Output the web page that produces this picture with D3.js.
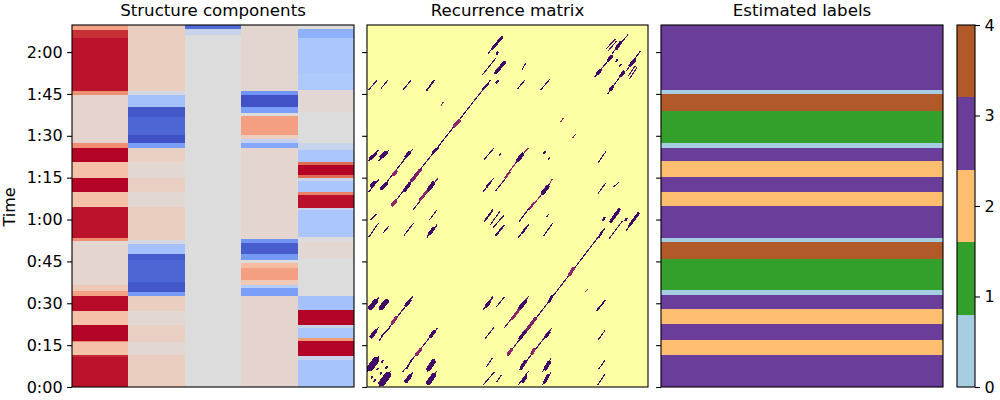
<!DOCTYPE html>
<html><head><meta charset="utf-8">
<script src="https://cdn.jsdelivr.net/npm/d3@7/dist/d3.min.js"></script>
<style>html,body{margin:0;padding:0;background:#fff}svg{display:block}text{font-family:"DejaVu Sans",sans-serif;fill:#000}</style>
</head><body><svg id="c" width="1000" height="400"></svg>
<script>
const duration = 129.7;
const timeTicks = [0,15,30,45,60,75,90,105,120];
const timeTickLabels = ["0:00","0:15","0:30","0:45","1:00","1:15","1:30","1:45","2:00"];
const titles = ["Structure components","Recurrence matrix","Estimated labels"];
const labelTicks = [0,1,2,3,4];
const labelColors = ["#a6cee3","#33a02c","#fdbf6f","#6a3d9a","#b15928"];

// [segment end in seconds, value], bottom to top
const component1 = [[10.8,.96],[11.5,.9],[16.1,.27],[16.5,.6],[22.2,1],[27.2,.27],[32.6,.98],[34.4,.45],[36.6,.2],[52.3,.07],[53.4,.55],[64.5,.96],[69.9,.27],[74.9,1],[80.6,.27],[85.7,1],[87.5,.55],[104.7,.08],[106.1,.55],[125.1,.96],[128,.88],[129.7,.45]];
const component2 = [[11.5,.14],[16.1,.05],[22.2,.13],[27.2,.05],[32.6,.14],[34,-.55],[37.6,-.95],[45.5,-.88],[47.7,-.93],[51.3,-.3],[52.7,-.05],[64.5,.14],[69.9,.05],[74.9,.13],[80.6,.05],[85.7,.13],[87.5,-.5],[90.3,-.97],[96.8,-.88],[100.4,-.95],[104.7,-.3],[106.1,-.05],[129.7,.14]];
const component3 = [[126.2,0],[128.3,-.12],[129.7,-.85]];
const component4 = [[32.6,.08],[35.5,-.5],[36.6,-.2],[38.4,.2],[42.7,.47],[44.4,.3],[45.5,0],[47.7,-.55],[51.6,-.92],[53,-.6],[85.7,.07],[87.5,-.45],[88.9,-.15],[90.3,.15],[97.1,.47],[98.2,0],[100.4,-.5],[104.7,-.97],[106.1,-.6],[129.7,.06]];
const component5 = [[9.7,-.28],[11.1,-.12],[16.5,1],[17.6,.5],[21.1,-.27],[22.2,-.1],[27.6,1],[32.6,-.3],[46.2,0],[52,.05],[53.8,0],[63.4,-.27],[64.2,-.1],[68.8,.97],[69.9,.6],[73.8,-.27],[74.9,-.1],[76,.7],[79.6,1],[80.6,.7],[84.9,-.27],[87.5,-.12],[98.6,0],[106.5,.05],[112.5,-.25],[125.1,-.27],[128.3,-.4],[129.7,0]];
const components = [component1,component2,component3,component4,component5];

// [end in seconds, label]
const labelSegments = [[11.5,3],[16.8,2],[22.6,3],[28,2],[33,3],[34.8,0],[45.9,1],[52,4],[53.4,0],[64.9,3],[70,2],[75.3,3],[81,2],[85.7,3],[87.5,0],[98.9,1],[105,4],[106.5,0],[129.7,3]];

// Recurrence runs above the diagonal: [t0, lagged t0, t1, lagged t1, similarity, beats wide]. The matrix is symmetric.
const recurrenceRuns = [
[.9,106.6,4.5,109.8,.8,1],[6.5,107,9.5,109.8,.8,1],[16.8,106.6,20.2,109.8,.8,1],[27.5,106.2,30.9,109.8,.8,1.5],
[.9,81.1,5.2,84.9,.8,1],[5.5,81.1,10.2,84.9,.8,1],[16.8,81.3,20.9,85.1,.8,1],[6.3,70.6,20.9,85.1,.8,1],
[11.7,65.2,56.8,109.8,.8,1],[21.4,63.6,32.5,74.6,.7,1],[.9,70,5.5,74.4,.8,1],[53.7,70,58.3,74.7,.8,1],
[59.4,70.3,64,74.8,.8,1],[64,74.8,66,76.8,.6,1],[54.2,81.6,58.5,85.5,.8,1],[61.1,83,61.7,83.7,.8,1],[34.2,100.8,35.1,102,.6,1],
[58,121.3,62.2,125.3,.8,2.5],[56,119.6,59.1,122.5,.8,1],[53.2,111.8,59.4,117.8,.8,1],[59.4,112.6,63.4,116.3,.8,3],
[59.8,119.3,60.3,119.8,.8,2],[59.8,109,60.6,109.6,.8,2],
[17.5,70.6,19.8,73,.8,3],[20.6,73.9,24.5,77.7,.65,3],[28.3,70.6,30.6,73,.8,3.5],[24.5,67,27.5,70,.6,2.5],[12.2,76.2,13.4,77.1,.6,3],
[11.7,65.2,13.3,66.6,.6,3],[40.3,93.5,42.5,95.3,.6,3],[30.6,84.1,32.6,85.5,.8,2.5],[1.8,82,4,83.5,.8,3],[2,72,3.6,73.3,.8,3],[6.8,71.2,9.1,73,.8,3],[6.6,82.4,8.8,84,.8,3.5],[18,82.6,19.6,84,.8,3],[53.7,107,55.7,108.6,.8,2],[55.2,71.6,56.8,73.2,.8,2],
[28.9,59.9,32.2,63.4,.8,1],[1.8,59.9,4.2,61.9,.8,1],[.9,53.8,5.2,58.6,.8,1],[7.5,55.3,10.2,57.7,.8,1],[17.2,54.4,21.4,58.6,.8,1],[27.8,53.8,32.2,58,.8,1.3],[29,55,30.5,56.6,.8,3],
[54.2,59.6,57.9,63.4,.8,1],[57.2,58.3,61.4,63.1,.8,1],[60.6,59.2,62.5,61,.8,1],[59.4,54.4,63.1,58,.8,1],
[.9,27.9,5.5,32,.8,1],[1.5,28.4,4.2,30.8,.8,4.5],[5.7,27.9,9.8,31.1,.8,1],[6.6,28.5,9,30.6,.8,4.5],[16.8,27.9,21.1,32.5,.8,1],[18,29.2,19.8,31,.8,3],[9.8,20.8,17.2,28.4,.8,1],[11.8,23,13.4,24.8,.6,3],
[1.4,17.6,5.2,21.2,.8,1],[2,18,4,20,.8,3.5],[6.8,18.4,10.2,21,.8,1.5],[5.5,16.5,7,18.2,.8,1],
[.3,5.7,5.5,10.8,.8,1],[1.4,6.8,4.2,9.6,.8,6],[6.8,8.8,7.2,9.2,.8,1.5],[9,6.9,9.4,7.3,.8,1.5],[4.7,6.2,5.1,6.6,.8,1.5],[2.1,3.3,2.5,3.7,.8,1.5],
[71.7,113.9,73.2,116,.8,1],[69.5,106.8,72.9,110,.8,1],[80.3,106.6,84.3,110.2,.8,1],[89.4,95,90.5,96.3,.6,1],
[63.7,75.1,68.3,79.9,.6,1],[68.3,79.9,72.9,84.3,.8,1],[69.6,81.2,71.8,83.4,.8,3.5],[72.9,84.3,74.5,85.5,.6,1],
[105.2,111.2,112.9,118.4,.8,1],[106.5,112.4,107.6,113.4,.8,3],[111.5,117.2,112.8,118.4,.8,3],
[110.6,121.3,114.5,124.6,.75,1],[111.5,120.6,115,123.8,.75,1],[113.2,119.6,120.3,126.1,.8,1],[115.2,121.4,117,123.4,.8,3],
[115,116.7,115.5,117.2,.8,1.5],[81.7,83.8,82.2,84.3,.8,1.5]
];

const svg = d3.select("#c");
const yTop = 25, yBottom = 387;
const panels = [[72,354],[367,648],[661,943]];
const y = d3.scaleLinear().domain([0,duration]).range([yBottom,yTop]);
const coolStops = ["#3b4cc0","#6282ea","#7b9ff9","#aec9fc","#dddcdc","#f5c4ac","#f49a7b","#dd5f4b","#b40426"];
const cool = d3.scaleLinear().domain(d3.range(9).map(i=>-1+i/4)).range(coolStops).clamp(true);
const labelColor = d3.scaleOrdinal().domain(labelTicks).range(labelColors);

function steps(list){let s=0;return list.map(([e,v])=>{const r={a:s,b:e,v};s=e;return r;});}

// Panel 1
const xc = d3.scaleBand().domain(d3.range(components.length)).range(panels[0]);
components.forEach((col,i)=>{
  svg.append("g").selectAll("rect").data(steps(col)).join("rect")
    .attr("x",xc(i)).attr("width",xc.bandwidth())
    .attr("y",d=>y(d.b)).attr("height",d=>y(d.a)-y(d.b))
    .attr("fill",d=>cool(d.v)).attr("shape-rendering","crispEdges");
});

// Panel 2
const xr = d3.scaleLinear().domain([0,duration]).range(panels[1]);
svg.append("rect").attr("x",panels[1][0]).attr("y",yTop).attr("width",panels[1][1]-panels[1][0]).attr("height",yBottom-yTop).attr("fill",d3.interpolateInferno(1));
svg.append("clipPath").attr("id","rc").append("rect").attr("x",panels[1][0]).attr("y",yTop).attr("width",panels[1][1]-panels[1][0]).attr("height",yBottom-yTop);
const rg = svg.append("g").attr("clip-path","url(#rc)");
const mirrored = recurrenceRuns.flatMap(r=>[r,[r[1],r[0],r[3],r[2],r[4],r[5]]]);
rg.selectAll("line").data(mirrored).join("line")
  .attr("x1",d=>xr(d[0])).attr("y1",d=>y(d[1])).attr("x2",d=>xr(d[2])).attr("y2",d=>y(d[3]))
  .attr("stroke",d=>d3.interpolateInferno(1-d[4])).attr("stroke-width",d=>d[5]*1.1)
  .attr("stroke-linecap","round")
  .attr("shape-rendering","crispEdges");

// Panel 3
const xl = panels[2];
svg.append("g").selectAll("rect").data(steps(labelSegments)).join("rect")
  .attr("x",xl[0]).attr("width",xl[1]-xl[0])
  .attr("y",d=>y(d.b)).attr("height",d=>y(d.a)-y(d.b))
  .attr("fill",d=>labelColor(d.v)).attr("shape-rendering","crispEdges");

// Axes and frames
panels.forEach((p,i)=>{
  svg.append("rect").attr("x",p[0]).attr("y",yTop).attr("width",p[1]-p[0]).attr("height",yBottom-yTop)
    .attr("fill","none").attr("stroke","#000").attr("stroke-width",1.1);
  const ax = d3.axisLeft(y).tickValues(timeTicks).tickSize(4.9).tickPadding(4.5)
    .tickFormat(i===0?((d,j)=>timeTickLabels[j]):(()=>""));
  const g = svg.append("g").attr("transform",`translate(${p[0]},0)`).call(ax);
  g.select(".domain").remove();
  g.selectAll("line").attr("stroke","#000").attr("stroke-width",1.1);
  g.selectAll("text").attr("font-size",16).attr("font-family",'"DejaVu Sans"');
  svg.append("text").attr("x",(p[0]+p[1])/2).attr("y",15.5).attr("text-anchor","middle").attr("font-size",16.67).text(titles[i]);
});
svg.append("text").attr("transform",`translate(15,207) rotate(-90)`).attr("text-anchor","middle").attr("font-size",16).text("Time");

// Colour bar
const cbx = [957,975];
const cb = d3.scaleLinear().domain([0,labelTicks.length]).range([yBottom,yTop]);
svg.append("g").selectAll("rect").data(labelColors).join("rect")
  .attr("x",cbx[0]).attr("width",cbx[1]-cbx[0])
  .attr("y",(d,i)=>cb(i+1)).attr("height",(d,i)=>cb(i)-cb(i+1)).attr("fill",d=>d).attr("shape-rendering","crispEdges");
svg.append("rect").attr("x",cbx[0]).attr("y",yTop).attr("width",cbx[1]-cbx[0]).attr("height",yBottom-yTop)
  .attr("fill","none").attr("stroke","#000").attr("stroke-width",1.1);
const cbt = d3.scaleLinear().domain(d3.extent(labelTicks)).range([yBottom,yTop]);
const cg = svg.append("g").attr("transform",`translate(${cbx[1]},0)`)
  .call(d3.axisRight(cbt).tickValues(labelTicks).tickFormat(d3.format("d")).tickSize(4.9).tickPadding(4.5));
cg.select(".domain").remove();
cg.selectAll("line").attr("stroke","#000").attr("stroke-width",1.1);
cg.selectAll("text").attr("font-size",16).attr("font-family",'"DejaVu Sans"');
</script></body></html>
